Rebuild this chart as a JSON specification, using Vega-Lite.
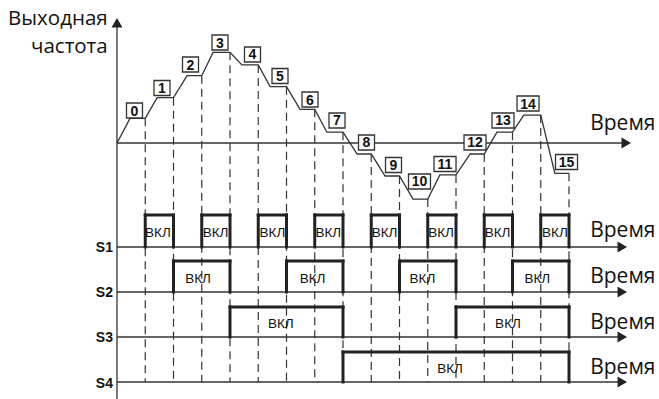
{
  "$schema": "https://vega.github.io/schema/vega-lite/v6.json",
  "width": 659,
  "height": 399,
  "autosize": "none",
  "padding": 0,
  "background": "white",
  "config": {"view": {"stroke": null}},
  "datasets": {
    "curve": [
      {"t": 0, "v": 0}, {"t": 0.46, "v": 11.2}, {"t": 1, "v": 11.2},
      {"t": 1.42, "v": 20.6}, {"t": 2, "v": 20.6},
      {"t": 2.48, "v": 30.6}, {"t": 3, "v": 30.6},
      {"t": 3.4, "v": 41.2}, {"t": 4, "v": 41.2},
      {"t": 4.42, "v": 35.5}, {"t": 5, "v": 35.5},
      {"t": 5.42, "v": 25.6}, {"t": 6, "v": 25.6},
      {"t": 6.48, "v": 15.3}, {"t": 7, "v": 15.3},
      {"t": 7.43, "v": 4.9}, {"t": 8, "v": 4.9},
      {"t": 8.5, "v": -5}, {"t": 9, "v": -5},
      {"t": 9.49, "v": -15}, {"t": 10, "v": -15},
      {"t": 10.48, "v": -25.5}, {"t": 11, "v": -25.5},
      {"t": 11.43, "v": -14.5}, {"t": 12, "v": -14.5},
      {"t": 12.5, "v": -5}, {"t": 13, "v": -5},
      {"t": 13.45, "v": 4.9}, {"t": 14, "v": 4.9},
      {"t": 14.4, "v": 12.7}, {"t": 15, "v": 12.7},
      {"t": 15.5, "v": -13.8}, {"t": 16, "v": -13.8}
    ],
    "dashes": [
      {"t": 1, "v": 11.2}, {"t": 2, "v": 20.6}, {"t": 3, "v": 30.6}, {"t": 4, "v": 41.2},
      {"t": 5, "v": 35.5}, {"t": 6, "v": 25.6}, {"t": 7, "v": 15.3}, {"t": 8, "v": 4.9},
      {"t": 9, "v": -5}, {"t": 10, "v": -15}, {"t": 11, "v": -25.5}, {"t": 12, "v": -14.5},
      {"t": 13, "v": -5}, {"t": 14, "v": 4.9}, {"t": 15, "v": 12.7}, {"t": 16, "v": -13.8}
    ],
    "labels": [
      {"n": "0", "tc": 0.619, "vc": 14.77},
      {"n": "1", "tc": 1.593, "vc": 25.0},
      {"n": "2", "tc": 2.602, "vc": 35.68},
      {"n": "3", "tc": 3.646, "vc": 45.68},
      {"n": "4", "tc": 4.796, "vc": 40.23},
      {"n": "5", "tc": 5.77, "vc": 30.45},
      {"n": "6", "tc": 6.832, "vc": 19.77},
      {"n": "7", "tc": 7.788, "vc": 10.23},
      {"n": "8", "tc": 8.832, "vc": 0.23},
      {"n": "9", "tc": 9.788, "vc": -10.0},
      {"n": "10", "tc": 10.708, "vc": -17.5},
      {"n": "11", "tc": 11.611, "vc": -9.55},
      {"n": "12", "tc": 12.673, "vc": 0.23},
      {"n": "13", "tc": 13.664, "vc": 10.23},
      {"n": "14", "tc": 14.549, "vc": 17.95},
      {"n": "15", "tc": 15.912, "vc": -8.64}
    ],
    "lanes": [
      {"sig": "S1", "base": -47.27, "lv": -49.55, "tv": -42.73},
      {"sig": "S2", "base": -67.73, "lv": -70.0, "tv": -63.64},
      {"sig": "S3", "base": -88.18, "lv": -90.45, "tv": -84.55},
      {"sig": "S4", "base": -108.64, "lv": -111.36, "tv": -105.0}
    ],
    "pulses": [
      {"sig": "S1", "t1": 1, "t2": 2, "tm": 1.45, "base": -47.27, "top": -32.73, "tv": -42.73},
      {"sig": "S1", "t1": 3, "t2": 4, "tm": 3.49, "base": -47.27, "top": -32.73, "tv": -42.73},
      {"sig": "S1", "t1": 5, "t2": 6, "tm": 5.5, "base": -47.27, "top": -32.73, "tv": -42.73},
      {"sig": "S1", "t1": 7, "t2": 8, "tm": 7.48, "base": -47.27, "top": -32.73, "tv": -42.73},
      {"sig": "S1", "t1": 9, "t2": 10, "tm": 9.47, "base": -47.27, "top": -32.73, "tv": -42.73},
      {"sig": "S1", "t1": 11, "t2": 12, "tm": 11.47, "base": -47.27, "top": -32.73, "tv": -42.73},
      {"sig": "S1", "t1": 13, "t2": 14, "tm": 13.47, "base": -47.27, "top": -32.73, "tv": -42.73},
      {"sig": "S1", "t1": 15, "t2": 16, "tm": 15.5, "base": -47.27, "top": -32.73, "tv": -42.73},
      {"sig": "S2", "t1": 2, "t2": 4, "tm": 2.87, "base": -67.73, "top": -53.64, "tv": -63.64},
      {"sig": "S2", "t1": 6, "t2": 8, "tm": 6.92, "base": -67.73, "top": -53.64, "tv": -63.64},
      {"sig": "S2", "t1": 10, "t2": 12, "tm": 10.81, "base": -67.73, "top": -53.64, "tv": -63.64},
      {"sig": "S2", "t1": 14, "t2": 16, "tm": 14.88, "base": -67.73, "top": -53.64, "tv": -63.64},
      {"sig": "S3", "t1": 4, "t2": 8, "tm": 5.8, "base": -88.18, "top": -74.55, "tv": -84.09},
      {"sig": "S3", "t1": 12, "t2": 16, "tm": 13.84, "base": -88.18, "top": -74.55, "tv": -84.09},
      {"sig": "S4", "t1": 8, "t2": 16, "tm": 11.79, "base": -108.64, "top": -95.0, "tv": -104.55}
    ],
    "hlines": [
      {"t1": 0, "t2": 18.027, "v": 0},
      {"t1": 0, "t2": 17.886, "v": -47.27},
      {"t1": 0, "t2": 17.886, "v": -67.73},
      {"t1": 0, "t2": 17.886, "v": -88.18},
      {"t1": 0, "t2": 17.886, "v": -108.64}
    ],
    "arrows": [
      {"t": 18.027, "v": 0, "s": "triangle-right"},
      {"t": 17.886, "v": -47.27, "s": "triangle-right"},
      {"t": 17.886, "v": -67.73, "s": "triangle-right"},
      {"t": 17.886, "v": -88.18, "s": "triangle-right"},
      {"t": 17.886, "v": -108.64, "s": "triangle-right"},
      {"t": 0, "v": 54.66, "s": "triangle-up"}
    ],
    "vline": [{"t": 0, "v1": 54.66, "v2": -116.36}],
    "titles": [
      {"txt": "Выходная", "t": -0.33, "v": 53.64},
      {"txt": "частота", "t": -0.33, "v": 40.91}
    ],
    "times": [
      {"txt": "Время", "t": 16.75, "v": 5.91},
      {"txt": "Время", "t": 16.75, "v": -42.73},
      {"txt": "Время", "t": 16.75, "v": -63.64},
      {"txt": "Время", "t": 16.75, "v": -84.55},
      {"txt": "Время", "t": 16.75, "v": -105.0}
    ]
  },
  "layer": [
    {
      "data": {"name": "dashes"},
      "mark": {"type": "rule", "stroke": "#333", "strokeWidth": 1.2, "strokeDash": [8, 5]},
      "encoding": {
        "x": {"field": "t", "type": "quantitative", "axis": null, "scale": {"domain": [-4.1416, 19.1858], "nice": false, "zero": false}},
        "y": {"field": "v", "type": "quantitative", "axis": null, "scale": {"domain": [-116.364, 65], "nice": false, "zero": false}},
        "y2": {"datum": -108.64}
      }
    },
    {
      "data": {"name": "hlines"},
      "mark": {"type": "rule", "stroke": "#333", "strokeWidth": 1.3},
      "encoding": {
        "x": {"field": "t1", "type": "quantitative", "axis": null, "scale": {"domain": [-4.1416, 19.1858], "nice": false, "zero": false}},
        "x2": {"field": "t2"},
        "y": {"field": "v", "type": "quantitative", "axis": null, "scale": {"domain": [-116.364, 65], "nice": false, "zero": false}}
      }
    },
    {
      "data": {"name": "vline"},
      "mark": {"type": "rule", "stroke": "#333", "strokeWidth": 1.3},
      "encoding": {
        "x": {"field": "t", "type": "quantitative", "axis": null, "scale": {"domain": [-4.1416, 19.1858], "nice": false, "zero": false}},
        "y": {"field": "v1", "type": "quantitative", "axis": null, "scale": {"domain": [-116.364, 65], "nice": false, "zero": false}},
        "y2": {"field": "v2"}
      }
    },
    {
      "data": {"name": "curve"},
      "mark": {"type": "line", "stroke": "#333", "strokeWidth": 1.3},
      "encoding": {
        "x": {"field": "t", "type": "quantitative", "axis": null, "scale": {"domain": [-4.1416, 19.1858], "nice": false, "zero": false}},
        "y": {"field": "v", "type": "quantitative", "axis": null, "scale": {"domain": [-116.364, 65], "nice": false, "zero": false}}
      }
    },
    {
      "data": {"name": "pulses"},
      "mark": {"type": "rule", "stroke": "#222", "strokeWidth": 3, "strokeCap": "square"},
      "encoding": {
        "x": {"field": "t1", "type": "quantitative", "axis": null, "scale": {"domain": [-4.1416, 19.1858], "nice": false, "zero": false}},
        "y": {"field": "base", "type": "quantitative", "axis": null, "scale": {"domain": [-116.364, 65], "nice": false, "zero": false}},
        "y2": {"field": "top"}
      }
    },
    {
      "data": {"name": "pulses"},
      "mark": {"type": "rule", "stroke": "#222", "strokeWidth": 3, "strokeCap": "square"},
      "encoding": {
        "x": {"field": "t2", "type": "quantitative", "axis": null, "scale": {"domain": [-4.1416, 19.1858], "nice": false, "zero": false}},
        "y": {"field": "base", "type": "quantitative", "axis": null, "scale": {"domain": [-116.364, 65], "nice": false, "zero": false}},
        "y2": {"field": "top"}
      }
    },
    {
      "data": {"name": "pulses"},
      "mark": {"type": "rule", "stroke": "#222", "strokeWidth": 3, "strokeCap": "square"},
      "encoding": {
        "x": {"field": "t1", "type": "quantitative", "axis": null, "scale": {"domain": [-4.1416, 19.1858], "nice": false, "zero": false}},
        "x2": {"field": "t2"},
        "y": {"field": "top", "type": "quantitative", "axis": null, "scale": {"domain": [-116.364, 65], "nice": false, "zero": false}}
      }
    },
    {
      "data": {"name": "pulses"},
      "mark": {"type": "text", "font": "Liberation Sans", "fontSize": 13.5, "fill": "#111", "align": "center", "baseline": "alphabetic"},
      "encoding": {
        "x": {"field": "tm", "type": "quantitative", "axis": null, "scale": {"domain": [-4.1416, 19.1858], "nice": false, "zero": false}},
        "y": {"field": "tv", "type": "quantitative", "axis": null, "scale": {"domain": [-116.364, 65], "nice": false, "zero": false}},
        "text": {"value": "ВКЛ"}
      }
    },
    {
      "data": {"name": "labels"},
      "transform": [{"filter": "length(datum.n) < 2"}],
      "mark": {"type": "rect", "fill": "white", "stroke": "#333", "strokeWidth": 1.3, "xOffset": -8, "x2Offset": 8, "yOffset": -7.5, "y2Offset": 7.5},
      "encoding": {
        "x": {"field": "tc", "type": "quantitative", "axis": null, "scale": {"domain": [-4.1416, 19.1858], "nice": false, "zero": false}},
        "x2": {"field": "tc"},
        "y": {"field": "vc", "type": "quantitative", "axis": null, "scale": {"domain": [-116.364, 65], "nice": false, "zero": false}},
        "y2": {"field": "vc"}
      }
    },
    {
      "data": {"name": "labels"},
      "transform": [{"filter": "length(datum.n) >= 2"}],
      "mark": {"type": "rect", "fill": "white", "stroke": "#333", "strokeWidth": 1.3, "xOffset": -11, "x2Offset": 11, "yOffset": -7.5, "y2Offset": 7.5},
      "encoding": {
        "x": {"field": "tc", "type": "quantitative", "axis": null, "scale": {"domain": [-4.1416, 19.1858], "nice": false, "zero": false}},
        "x2": {"field": "tc"},
        "y": {"field": "vc", "type": "quantitative", "axis": null, "scale": {"domain": [-116.364, 65], "nice": false, "zero": false}},
        "y2": {"field": "vc"}
      }
    },
    {
      "data": {"name": "labels"},
      "mark": {"type": "text", "font": "Liberation Sans", "fontSize": 14, "fontWeight": "bold", "fill": "#111", "align": "center", "baseline": "middle", "dy": 1},
      "encoding": {
        "x": {"field": "tc", "type": "quantitative", "axis": null, "scale": {"domain": [-4.1416, 19.1858], "nice": false, "zero": false}},
        "y": {"field": "vc", "type": "quantitative", "axis": null, "scale": {"domain": [-116.364, 65], "nice": false, "zero": false}},
        "text": {"field": "n"}
      }
    },
    {
      "data": {"name": "lanes"},
      "mark": {"type": "text", "font": "Liberation Sans", "fontSize": 14, "fontWeight": "bold", "fill": "#111", "align": "right", "baseline": "alphabetic"},
      "encoding": {
        "x": {"datum": -0.142, "type": "quantitative", "axis": null, "scale": {"domain": [-4.1416, 19.1858], "nice": false, "zero": false}},
        "y": {"field": "lv", "type": "quantitative", "axis": null, "scale": {"domain": [-116.364, 65], "nice": false, "zero": false}},
        "text": {"field": "sig"}
      }
    },
    {
      "data": {"name": "titles"},
      "mark": {"type": "text", "font": "Open Sans", "fontSize": 20.5, "fill": "#111", "align": "right", "baseline": "alphabetic"},
      "encoding": {
        "x": {"field": "t", "type": "quantitative", "axis": null, "scale": {"domain": [-4.1416, 19.1858], "nice": false, "zero": false}},
        "y": {"field": "v", "type": "quantitative", "axis": null, "scale": {"domain": [-116.364, 65], "nice": false, "zero": false}},
        "text": {"field": "txt"}
      }
    },
    {
      "data": {"name": "times"},
      "mark": {"type": "text", "font": "Open Sans", "fontSize": 21, "fill": "#111", "align": "left", "baseline": "alphabetic"},
      "encoding": {
        "x": {"field": "t", "type": "quantitative", "axis": null, "scale": {"domain": [-4.1416, 19.1858], "nice": false, "zero": false}},
        "y": {"field": "v", "type": "quantitative", "axis": null, "scale": {"domain": [-116.364, 65], "nice": false, "zero": false}},
        "text": {"field": "txt"}
      }
    },
    {
      "data": {"name": "arrows"},
      "mark": {"type": "point", "filled": true, "size": 120, "fill": "#222", "opacity": 1, "strokeWidth": 0},
      "encoding": {
        "x": {"field": "t", "type": "quantitative", "axis": null, "scale": {"domain": [-4.1416, 19.1858], "nice": false, "zero": false}},
        "y": {"field": "v", "type": "quantitative", "axis": null, "scale": {"domain": [-116.364, 65], "nice": false, "zero": false}},
        "shape": {"field": "s", "type": "nominal", "scale": null}
      }
    }
  ]
}
